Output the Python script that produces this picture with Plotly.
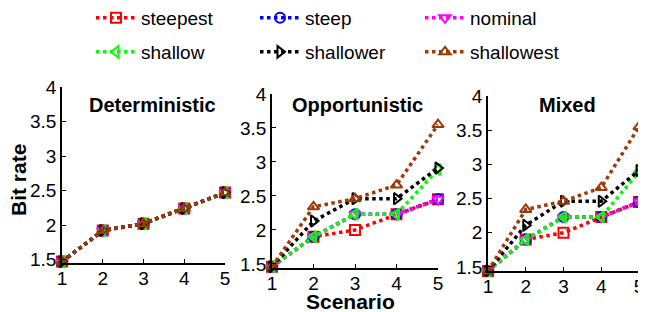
import plotly.graph_objects as go

scenarios = [1, 2, 3, 4, 5]
series_names = ["steepest", "steep", "nominal", "shallow", "shallower", "shallowest"]

# Deterministic panel
det_steepest   = [1.47, 1.92, 2.02, 2.24, 2.47]
det_steep      = [1.47, 1.92, 2.02, 2.24, 2.47]
det_nominal    = [1.47, 1.92, 2.02, 2.24, 2.47]
det_shallow    = [1.47, 1.92, 2.02, 2.24, 2.47]
det_shallower  = [1.47, 1.92, 2.02, 2.24, 2.47]
det_shallowest = [1.47, 1.92, 2.02, 2.24, 2.47]

# Opportunistic panel
opp_steepest   = [1.46, 1.90, 2.00, 2.23, 2.45]
opp_steep      = [1.46, 1.90, 2.23, 2.23, 2.45]
opp_nominal    = [1.46, 1.90, 2.23, 2.23, 2.45]
opp_shallow    = [1.46, 1.90, 2.23, 2.23, 2.89]
opp_shallower  = [1.46, 2.13, 2.46, 2.46, 2.91]
opp_shallowest = [1.46, 2.34, 2.46, 2.66, 3.55]

# Mixed panel
mix_steepest   = [1.44, 1.90, 2.00, 2.23, 2.45]
mix_steep      = [1.44, 1.90, 2.23, 2.23, 2.45]
mix_nominal    = [1.44, 1.90, 2.23, 2.23, 2.45]
mix_shallow    = [1.44, 1.90, 2.23, 2.23, 2.89]
mix_shallower  = [1.44, 2.11, 2.46, 2.46, 2.91]
mix_shallowest = [1.44, 2.34, 2.46, 2.66, 3.55]

panel_titles = ["Deterministic", "Opportunistic", "Mixed"]
y_ticks = [1.5, 2, 2.5, 3, 3.5, 4]
y_tick_labels = ["1.5", "2", "2.5", "3", "3.5", "4"]

panels = [
    [det_steepest, det_steep, det_nominal, det_shallow, det_shallower, det_shallowest],
    [opp_steepest, opp_steep, opp_nominal, opp_shallow, opp_shallower, opp_shallowest],
    [mix_steepest, mix_steep, mix_nominal, mix_shallow, mix_shallower, mix_shallowest],
]

colors = ["#FF0000", "#0000FF", "#FF00FF", "#00FF00", "#000000", "#A0380A"]
symbols = ["square-open", "circle-open", "triangle-down-open",
           "triangle-left-open", "triangle-right-open", "triangle-up-open"]
legend_ids = ["legend", "legend3", "legend5", "legend2", "legend4", "legend6"]

# page body has an 8px margin: build the figure so it fills the rest of the window
OFF = 8
W, H = 646 - OFF, 312 - OFF

def px(x):
    return (x - OFF) / W

def py(y):
    return 1 - (y - OFF) / H

# screen pixel boxes of the three axes: (left, right, top, bottom)
boxes = [(62, 225, 87, 263), (272, 438, 94, 268), (488, 639, 96, 271)]
yranges = [[1.45, 4.0], [1.44, 4.0], [1.44, 4.0]]

FONT = "Liberation Sans, Arial, sans-serif"

fig = go.Figure()
for p, data in enumerate(panels):
    xa = "x" if p == 0 else f"x{p+1}"
    ya = "y" if p == 0 else f"y{p+1}"
    for i, name in enumerate(series_names):
        fig.add_trace(go.Scatter(
            x=scenarios, y=data[i], name=name, mode="lines+markers",
            line=dict(color=colors[i], width=3.5, dash="dot"),
            marker=dict(symbol=symbols[i], size=10, color=colors[i],
                        line=dict(color=colors[i], width=2)),
            xaxis=xa, yaxis=ya, showlegend=(p == 0),
            legend=legend_ids[i], cliponaxis=False,
        ))

layout = dict(
    width=W, height=H, margin=dict(l=0, r=0, t=0, b=0, autoexpand=False),
    paper_bgcolor="white", plot_bgcolor="white",
    font=dict(family=FONT, size=19, color="black"),
)
for p, (l, r, t, b) in enumerate(boxes):
    sx = "" if p == 0 else str(p + 1)
    layout[f"xaxis{sx}"] = dict(
        domain=[px(l), px(r)], range=[1, 5], anchor=f"y{sx}", automargin=False,
        tickvals=scenarios, ticktext=[str(s) for s in scenarios],
        showline=True, linecolor="black", linewidth=1.5,
        ticks="inside", ticklen=4, tickcolor="black", tickwidth=1,
        ticklabelstandoff=-3,
        showgrid=False, zeroline=False, tickfont=dict(size=19),
    )
    layout[f"yaxis{sx}"] = dict(
        domain=[py(b), py(t)], range=yranges[p], anchor=f"x{sx}", automargin=False,
        tickvals=y_ticks, ticktext=y_tick_labels,
        showline=True, linecolor="black", linewidth=1.5,
        ticks="inside", ticklen=4, tickcolor="black", tickwidth=1,
        showgrid=False, zeroline=False, tickfont=dict(size=19),
    )

# legends: 3 columns x 2 rows (screen pixels of the legend text start / row centre)
text_x = [142, 306, 471]
row_y = [18, 52]
leg_pos = {
    "legend": (0, 0), "legend3": (1, 0), "legend5": (2, 0),
    "legend2": (0, 1), "legend4": (1, 1), "legend6": (2, 1),
}
for lid, (c, r) in leg_pos.items():
    layout[lid] = dict(
        x=px(text_x[c] - 51), y=py(row_y[r]), xanchor="left", yanchor="middle",
        bgcolor="rgba(0,0,0,0)", borderwidth=0, itemwidth=40,
        font=dict(family=FONT, size=19, color="black"),
    )

fig.update_layout(**layout)

# panel titles
title_x = [152, 357, 567]
for p, txt in enumerate(panel_titles):
    fig.add_annotation(
        text=f"<b>{txt}</b>", x=px(title_x[p]), y=py(105),
        xref="paper", yref="paper", showarrow=False,
        xanchor="center", yanchor="middle",
        font=dict(family=FONT, size=20, color="black"),
    )

fig.add_annotation(text="<b>Bit rate</b>", x=px(18), y=py(180),
                   xref="paper", yref="paper", showarrow=False, textangle=-90,
                   xanchor="center", yanchor="middle",
                   font=dict(family=FONT, size=21, color="black"))
fig.add_annotation(text="<b>Scenario</b>", x=px(350), y=py(301),
                   xref="paper", yref="paper", showarrow=False,
                   xanchor="center", yanchor="middle",
                   font=dict(family=FONT, size=21, color="black"))

fig.write_html("out.html")
